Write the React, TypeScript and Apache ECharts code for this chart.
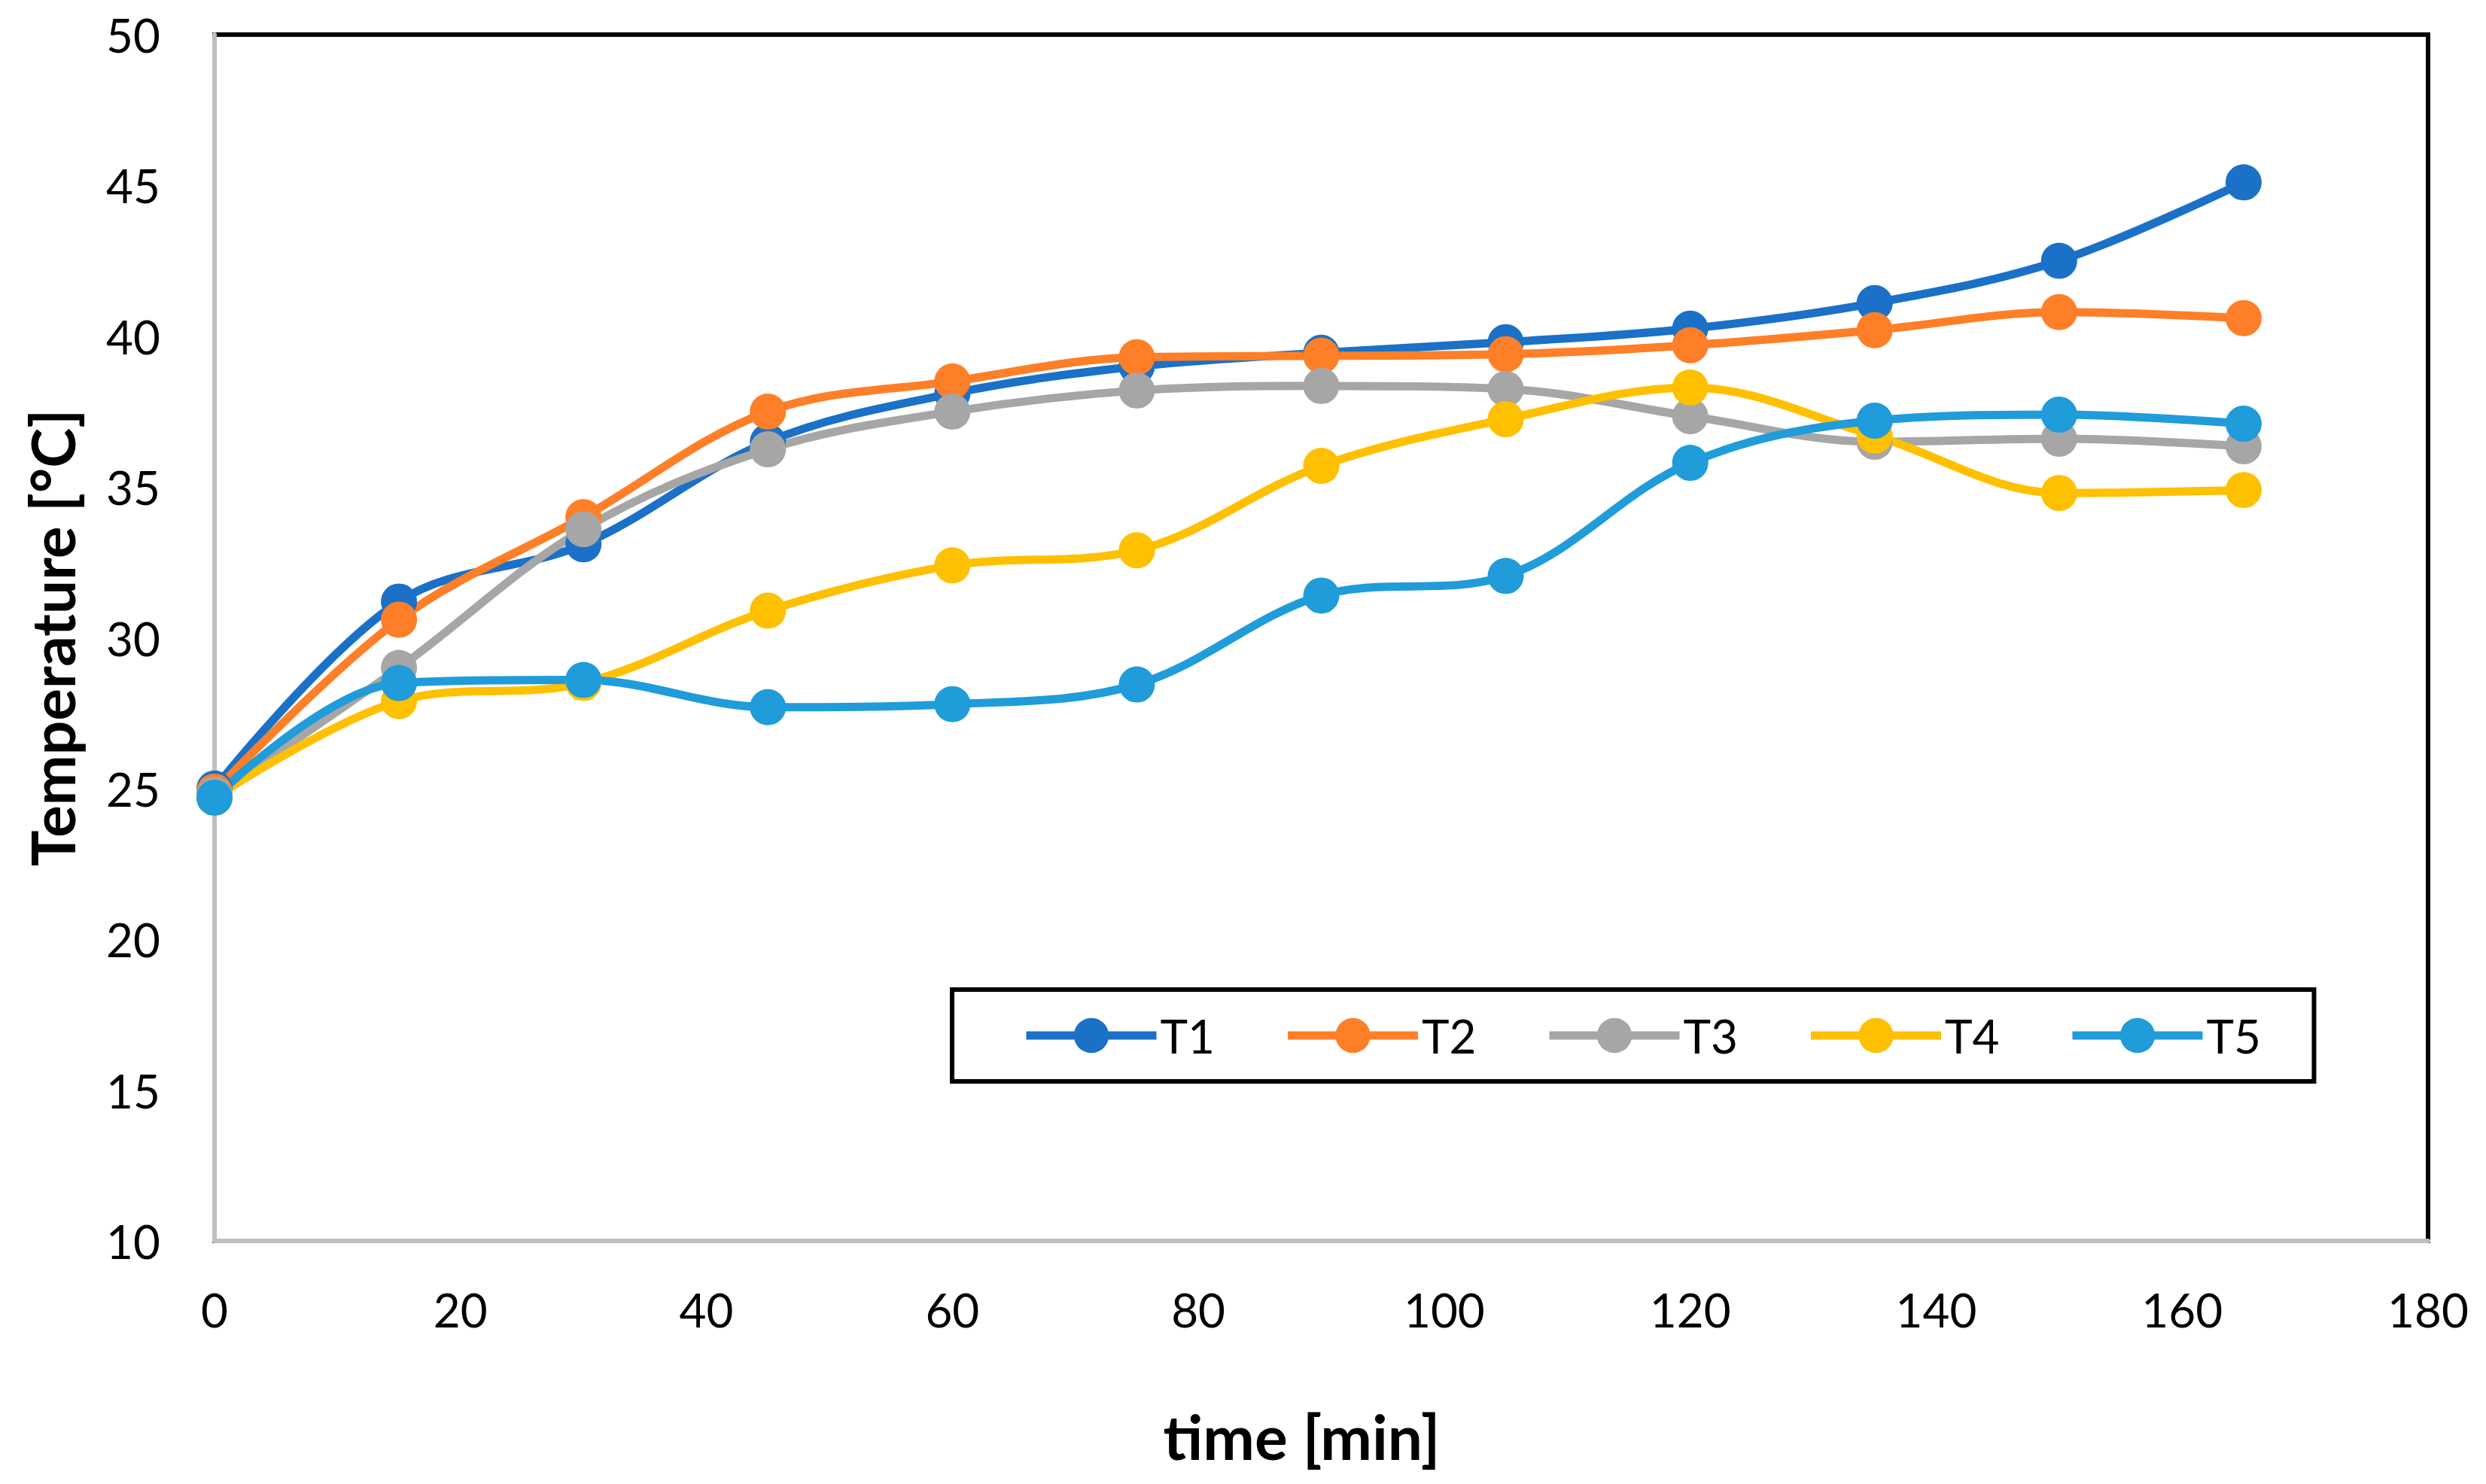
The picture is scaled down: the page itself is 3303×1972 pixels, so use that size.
import React, { useEffect, useRef } from "react";
import * as echarts from "echarts";

const times = [0, 15, 30, 45, 60, 75, 90, 105, 120, 135, 150, 165];
const seriesNames = ["T1", "T2", "T3", "T4", "T5"];
const t1 = [25.0, 31.2, 33.1, 36.5, 38.1, 39.0, 39.45, 39.8, 40.25, 41.1, 42.5, 45.1];
const t2 = [24.9, 30.6, 34.0, 37.5, 38.5, 39.3, 39.35, 39.4, 39.7, 40.2, 40.8, 40.6];
const t3 = [24.8, 29.0, 33.6, 36.25, 37.5, 38.2, 38.35, 38.25, 37.35, 36.5, 36.6, 36.35];
const t4 = [24.7, 27.9, 28.5, 30.9, 32.4, 32.9, 35.7, 37.25, 38.3, 36.7, 34.8, 34.9];
const t5 = [24.7, 28.5, 28.6, 27.7, 27.8, 28.45, 31.4, 32.05, 35.8, 37.2, 37.4, 37.1];
const seriesValues = [t1, t2, t3, t4, t5];
const colors = ["#1A71C7", "#FE7F27", "#A6A6A6", "#FFC000", "#1F9CD9"];
const xTicks = { min: 0, max: 180, interval: 20 };
const yTicks = { min: 10, max: 50, interval: 5 };

const FONT = "Lato, 'Noto Sans', sans-serif";

export default function App() {
  const ref = useRef<HTMLDivElement>(null);
  useEffect(() => {
    document.body.style.margin = "0";
    const chart = echarts.init(ref.current!, undefined, { renderer: "svg" });
    chart.setOption({
      animation: false,
      backgroundColor: "#fff",
      textStyle: { fontFamily: FONT },
      grid: {
        left: 285,
        right: 77,
        top: 46,
        bottom: 323,
        show: true,
        borderColor: "#000",
        borderWidth: 6,
        backgroundColor: "transparent",
      },
      legend: {
        data: seriesNames,
        left: 1265,
        top: 1315,
        orient: "horizontal",
        itemWidth: 173,
        itemHeight: 58,
        itemGap: 84,
        padding: [30, 63, 30, 93],
        borderColor: "#000",
        borderWidth: 6,
        backgroundColor: "#fff",
        lineStyle: { width: 11 },
        textStyle: {
          fontSize: 62,
          lineHeight: 62,
          color: "#000",
          fontFamily: FONT,
          width: 80,
        },
      },
      xAxis: {
        type: "value",
        min: xTicks.min,
        max: xTicks.max,
        interval: xTicks.interval,
        name: "time [min]",
        nameLocation: "middle",
        nameGap: 218,
        nameTextStyle: {
          fontSize: 82,
          fontWeight: "bold",
          color: "#000",
          fontFamily: FONT,
          padding: [0, 52, 0, 0],
        },
        axisLine: { onZero: false, lineStyle: { color: "#BFBFBF", width: 6 } },
        axisTick: { show: false },
        splitLine: { show: false },
        axisLabel: { fontSize: 62, color: "#000", margin: 60, fontFamily: FONT },
      },
      yAxis: {
        type: "value",
        min: yTicks.min,
        max: yTicks.max,
        interval: yTicks.interval,
        name: "Temperature [°C]",
        nameLocation: "middle",
        nameGap: 176,
        nameTextStyle: { fontSize: 80, fontWeight: "bold", color: "#000", fontFamily: FONT },
        axisLine: { show: true, lineStyle: { color: "#BFBFBF", width: 6 } },
        axisTick: { show: false },
        splitLine: { show: false },
        axisLabel: { fontSize: 62, color: "#000", margin: 72, fontFamily: FONT },
      },
      series: seriesNames.map((name, i) => ({
        name,
        type: "line",
        data: times.map((t, j) => [t, seriesValues[i][j]]),
        smooth: 0.35,
        symbol: "circle",
        symbolSize: 48,
        color: colors[i],
        lineStyle: { width: 11, color: colors[i] },
        itemStyle: { color: colors[i] },
      })),
    });
    return () => chart.dispose();
  }, []);
  return <div ref={ref} style={{ width: 3303, height: 1972 }} />;
}
